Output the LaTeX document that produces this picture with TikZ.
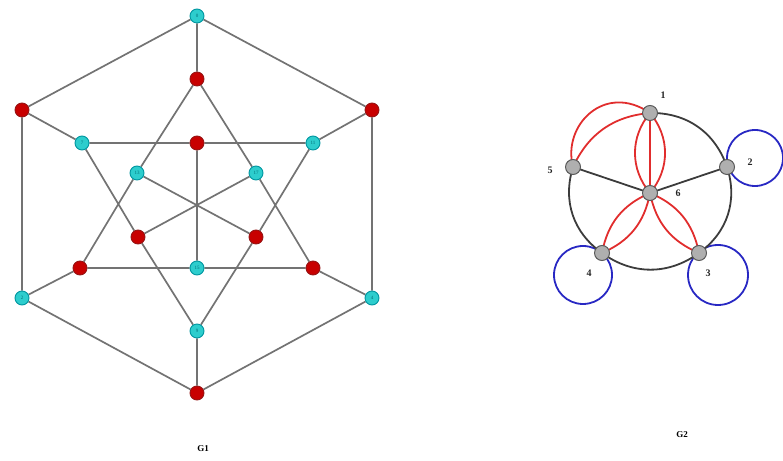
\documentclass[tikz,border=0pt]{standalone}
\usepackage{fontspec}
\setmainfont{Liberation Serif}
\usetikzlibrary{backgrounds}
\begin{document}
\begin{tikzpicture}[x=1pt,y=1pt,
  gedge/.style={draw=gline,line width=1.7pt},
  cv/.style={circle,draw=cyanb,fill=cyanf,line width=0.9pt,minimum size=14pt,inner sep=0pt,font=\fontsize{5}{5}\selectfont,text=cyant},
  rv/.style={circle,draw=redb,fill=redf,line width=0.9pt,minimum size=14pt,inner sep=0pt},
  gv/.style={circle,draw=grayb,fill=grayf,line width=1pt,minimum size=15pt,inner sep=0pt},
  blk/.style={draw=blkc,line width=1.8pt},
  rd/.style={draw=redc,line width=1.8pt},
  bl/.style={draw=bluec,line width=1.8pt},
  lab/.style={font=\bfseries\fontsize{10}{10}\selectfont,text=black!85}]
\definecolor{gline}{RGB}{115,115,115}
\definecolor{cyanf}{RGB}{45,205,205}
\definecolor{cyanb}{RGB}{0,150,160}
\definecolor{cyant}{RGB}{0,110,120}
\definecolor{redf}{RGB}{200,0,0}
\definecolor{redb}{RGB}{150,20,20}
\definecolor{grayf}{RGB}{175,175,175}
\definecolor{grayb}{RGB}{90,90,90}
\definecolor{blkc}{RGB}{60,60,60}
\definecolor{redc}{RGB}{225,45,45}
\definecolor{bluec}{RGB}{40,40,195}
\useasboundingbox (0,0) rectangle (783,460);
% ---------- G1 ----------
\node[cv] (otop) at (197,444) {0};
\node[rv] (oul) at (22,350) {};
\node[rv] (our) at (372,350) {};
\node[cv] (oll) at (22,162) {2};
\node[cv] (olr) at (372,162) {4};
\node[rv] (obot) at (197,67) {};
\node[rv] (mtop) at (197,381) {};
\node[cv] (mul) at (82,317) {7};
\node[cv] (mur) at (313,317) {11};
\node[rv] (mll) at (80,192) {};
\node[rv] (mlr) at (313,192) {};
\node[cv] (mbot) at (197,129) {9};
\node[rv] (itop) at (197,317) {};
\node[cv] (iul) at (137,287) {13};
\node[cv] (iur) at (256,287) {17};
\node[rv] (ill) at (138,223) {};
\node[rv] (ilr) at (256,223) {};
\node[cv] (ibot) at (197,192) {15};
\begin{pgfonlayer}{background}
\path[gedge] (otop)--(oul) (otop)--(our) (oul)--(oll) (our)--(olr) (oll)--(obot) (olr)--(obot)
  (otop)--(mtop) (oul)--(mul) (our)--(mur) (oll)--(mll) (olr)--(mlr) (obot)--(mbot)
  (mul)--(itop) (itop)--(mur) (mll)--(ibot) (ibot)--(mlr)
  (mtop)--(iul) (iul)--(mll) (mtop)--(iur) (iur)--(mlr)
  (mul)--(ill) (ill)--(mbot) (mur)--(ilr) (ilr)--(mbot)
  (itop)--(ibot) (iul)--(ilr) (iur)--(ill);
\end{pgfonlayer}
\node[font=\bfseries\fontsize{9}{9}\selectfont] (g1) at (203,11) {G1};
% ---------- G2 ----------
\coordinate (l2) at (755,302);
\coordinate (l4) at (583,185);
\coordinate (l3) at (718,185);
\draw[bl] (l2) circle (28);
\draw[bl] (l4) circle (29);
\draw[bl] (l3) circle (30);
\coordinate (p1) at (650,347);
\coordinate (p2) at (727,293);
\coordinate (p3) at (699,207);
\coordinate (p4) at (602,207);
\coordinate (p5) at (573,293);
\coordinate (p6) at (650,267);
\draw[blk] (p1) to[bend left=36] (p2);
\draw[blk] (p2) to[bend left=36] (p3);
\draw[blk] (p3) to[bend left=36] (p4);
\draw[blk] (p4) to[bend left=36] (p5);
\draw[blk] (p5) -- (p6);
\draw[blk] (p2) -- (p6);
\draw[rd] (p5) to[bend left=30] (p1);
\draw[rd] (p5) .. controls (562,335) and (605,378) .. (p1);
\draw[rd] (p1) -- (p6);
\draw[rd] (p1) to[bend left=40] (p6);
\draw[rd] (p1) to[bend right=40] (p6);
\draw[rd] (p6) to[bend left=28] (p4);
\draw[rd] (p6) to[bend right=28] (p4);
\draw[rd] (p6) to[bend left=28] (p3);
\draw[rd] (p6) to[bend right=28] (p3);
\node[gv] (n1) at (p1) {};
\node[gv] (n2) at (p2) {};
\node[gv] (n3) at (p3) {};
\node[gv] (n4) at (p4) {};
\node[gv] (n5) at (p5) {};
\node[gv] (n6) at (p6) {};
\node[lab] (t1) at (663,365) {1};
\node[lab] (t2) at (750,298) {2};
\node[lab] (t5) at (550,290) {5};
\node[lab] (t6) at (678,267) {6};
\node[lab] (t4) at (589,187) {4};
\node[lab] (t3) at (708,187) {3};
\node[font=\bfseries\fontsize{9}{9}\selectfont] (g2) at (682,25) {G2};
\end{tikzpicture}
\end{document}
